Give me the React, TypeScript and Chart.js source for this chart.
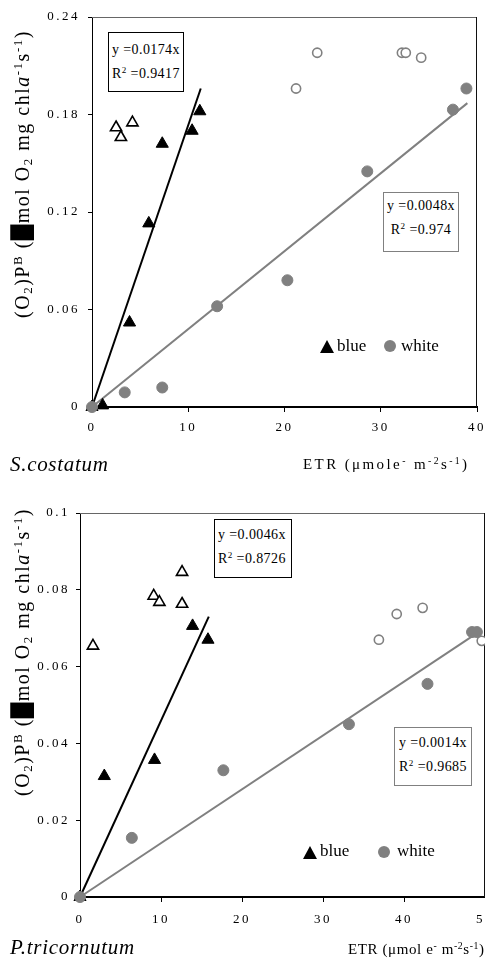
import React, { useEffect, useRef } from 'react';
import { Chart, registerables } from 'chart.js';

Chart.register(...registerables);

// ---------- S. costatum (top panel) ----------
const scXTicks = [0, 10, 20, 30, 40];
const scYTicks = [0, 0.06, 0.12, 0.18, 0.24];
const scYTickLabels = ['0', '0.06', '0.12', '0.18', '0.24'];

const scBlueX = [0, 1.1, 3.9, 5.9, 7.3, 10.4, 11.2];
const scBlueY = [0, 0.001, 0.052, 0.113, 0.162, 0.17, 0.182];
const scBlueOpenX = [2.5, 3.0, 4.2];
const scBlueOpenY = [0.172, 0.166, 0.175];
const scWhiteX = [0, 3.4, 7.3, 13.0, 20.3, 28.6, 37.5, 38.9];
const scWhiteY = [0, 0.009, 0.012, 0.062, 0.078, 0.145, 0.183, 0.196];
const scWhiteOpenX = [21.2, 23.4, 32.2, 32.6, 34.2];
const scWhiteOpenY = [0.196, 0.218, 0.218, 0.218, 0.215];
const scBlueFitX = [0, 11.3];
const scBlueFitY = [0, 0.196];
const scWhiteFitX = [0, 39.0];
const scWhiteFitY = [0, 0.187];

// ---------- P. tricornutum (bottom panel) ----------
const ptXTicks = [0, 10, 20, 30, 40, 50];
const ptYTicks = [0, 0.02, 0.04, 0.06, 0.08, 0.1];
const ptYTickLabels = ['0', '0.02', '0.04', '0.06', '0.08', '0.1'];

const ptBlueX = [0, 3.0, 9.2, 13.9, 15.8];
const ptBlueY = [0, 0.0315, 0.0357, 0.0706, 0.067];
const ptBlueOpenX = [1.6, 9.1, 9.8, 12.6, 12.6];
const ptBlueOpenY = [0.0654, 0.0784, 0.0768, 0.0846, 0.0763];
const ptWhiteX = [0, 6.4, 17.7, 33.2, 42.9, 48.4, 49.0];
const ptWhiteY = [0, 0.0154, 0.033, 0.045, 0.0555, 0.069, 0.069];
const ptWhiteOpenX = [36.9, 39.1, 42.3, 49.6];
const ptWhiteOpenY = [0.067, 0.0737, 0.0753, 0.0667];
const ptBlueFitX = [0, 15.9];
const ptBlueFitY = [0, 0.073];
const ptWhiteFitX = [0, 48.5];
const ptWhiteFitY = [0, 0.068];

const FONT = '"Liberation Serif", "Times New Roman", Times, serif';
const GRAY = '#808080';

function pts(xs: number[], ys: number[]) {
  return xs.map((x, i) => ({ x, y: ys[i] }));
}

const framePlugin = {
  id: 'frame',
  beforeLayout(chart: any) {
    chart.ctx.letterSpacing = '2.5px';
  },
  beforeDraw(chart: any) {
    chart.ctx.letterSpacing = '2.5px';
  },
  beforeDatasetsDraw(chart: any) {
    const { ctx, chartArea } = chart;
    const { left, right, top, bottom } = chartArea;
    ctx.save();
    ctx.lineWidth = 1;
    ctx.strokeStyle = '#666';
    ctx.beginPath();
    ctx.moveTo(left, Math.round(top) + 0.5);
    ctx.lineTo(right, Math.round(top) + 0.5);
    ctx.stroke();
    ctx.strokeStyle = '#111';
    ctx.beginPath();
    ctx.moveTo(Math.round(right) - 0.5, top);
    ctx.lineTo(Math.round(right) - 0.5, bottom);
    ctx.stroke();
    ctx.restore();
  },
};

type Cfg = {
  xMax: number;
  yMax: number;
  xTicks: number[];
  yTicks: number[];
  yLabels: string[];
  padTop: number;
  padRight: number;
  padBottom: number;
  yWidth: number;
  xPad: number;
  yPad: number;
  blue: { x: number; y: number }[];
  blueOpen: { x: number; y: number }[];
  white: { x: number; y: number }[];
  whiteOpen: { x: number; y: number }[];
  blueFit: { x: number; y: number }[];
  whiteFit: { x: number; y: number }[];
};

function makeChart(canvas: HTMLCanvasElement, c: Cfg) {
  return new Chart(canvas, {
    type: 'scatter',
    data: {
      datasets: [
        {
          label: 'white',
          data: c.white,
          pointStyle: 'circle',
          pointRadius: 5.5,
          backgroundColor: GRAY,
          borderColor: GRAY,
          borderWidth: 1,
          showLine: false,
          clip: false,
        } as any,
        {
          label: 'white (open)',
          data: c.whiteOpen,
          pointStyle: 'circle',
          pointRadius: 4.6,
          backgroundColor: '#fff',
          borderColor: GRAY,
          borderWidth: 1.6,
          showLine: false,
          clip: false,
        },
        {
          label: 'blue',
          data: c.blue,
          pointStyle: 'triangle',
          pointRadius: 7,
          backgroundColor: '#000',
          borderColor: '#000',
          borderWidth: 1,
          showLine: false,
          clip: false,
        },
        {
          label: 'blue (open)',
          data: c.blueOpen,
          pointStyle: 'triangle',
          pointRadius: 6.5,
          backgroundColor: '#fff',
          borderColor: '#000',
          borderWidth: 1.6,
          showLine: false,
          clip: false,
        },
        {
          label: 'white fit',
          data: c.whiteFit,
          showLine: true,
          pointRadius: 0,
          borderColor: GRAY,
          borderWidth: 2,
          clip: false,
        },
        {
          label: 'blue fit',
          data: c.blueFit,
          showLine: true,
          pointRadius: 0,
          borderColor: '#000',
          borderWidth: 2,
          clip: false,
        },
      ],
    },
    options: {
      responsive: false,
      maintainAspectRatio: false,
      animation: false,
      events: [],
      layout: { padding: { left: 0, top: c.padTop, right: c.padRight, bottom: c.padBottom } },
      plugins: { legend: { display: false }, tooltip: { enabled: false } },
      scales: {
        x: {
          type: 'linear',
          min: 0,
          max: c.xMax,
          afterBuildTicks: (s: any) => {
            s.ticks = c.xTicks.map((v) => ({ value: v }));
          },
          afterFit: (s: any) => {
            s.height = 30;
          },
          grid: { display: true, drawOnChartArea: false, drawTicks: true, tickLength: 5, tickColor: '#000', tickWidth: 1 },
          border: { display: true, color: '#000', width: 2 },
          ticks: {
            color: '#000',
            font: { family: FONT, size: 13 },
            padding: c.xPad,
            maxRotation: 0,
            autoSkip: false,
            callback: (v: any) => String(v),
          },
        },
        y: {
          type: 'linear',
          min: 0,
          max: c.yMax,
          afterBuildTicks: (s: any) => {
            s.ticks = c.yTicks.map((v) => ({ value: v }));
          },
          afterFit: (s: any) => {
            s.width = c.yWidth;
          },
          grid: { display: true, drawOnChartArea: false, drawTicks: true, tickLength: 4, tickColor: '#000', tickWidth: 1 },
          border: { display: true, color: '#000', width: 1 },
          ticks: {
            color: '#000',
            font: { family: FONT, size: 13 },
            padding: c.yPad,
            autoSkip: false,
            callback: (_v: any, i: number) => c.yLabels[i],
          },
        },
      },
    } as any,
    plugins: [framePlugin],
  });
}

const supStyle: React.CSSProperties = { fontSize: '0.65em', verticalAlign: '0.55em', lineHeight: 0 };
const subStyle: React.CSSProperties = { fontSize: '0.65em', verticalAlign: '-0.25em', lineHeight: 0 };
const Sup = ({ children }: { children: React.ReactNode }) => <span style={supStyle}>{children}</span>;
const Sub = ({ children }: { children: React.ReactNode }) => <span style={subStyle}>{children}</span>;

function YTitle({ cx, cy }: { cx: number; cy: number }) {
  return (
    <div
      style={{
        position: 'absolute',
        left: cx,
        top: cy,
        transform: 'translate(-50%, -50%) rotate(-90deg)',
        whiteSpace: 'nowrap',
        fontSize: 20,
        lineHeight: '20px',
        letterSpacing: '1.5px',
      }}
    >
      (O<Sub>2</Sub>)P<Sup>B</Sup> (<span style={{ fontFamily: '"DejaVu Sans"' }}>█</span>mol O<Sub>2</Sub> mg chl
      <i>a</i>
      <Sup>-1</Sup>s<Sup>-1</Sup>)
    </div>
  );
}

function EqBox(props: {
  left: number;
  top: number;
  width: number;
  height: number;
  border: string;
  align: 'left' | 'center';
  padTop: number;
  padLeft: number;
  eq: string;
  r2: string;
}) {
  return (
    <div
      style={{
        position: 'absolute',
        left: props.left,
        top: props.top,
        width: props.width,
        height: props.height,
        boxSizing: 'border-box',
        border: `1px solid ${props.border}`,
        background: '#fff',
        fontSize: 14,
        lineHeight: '24px',
        letterSpacing: '0.4px',
        paddingTop: props.padTop,
        paddingLeft: props.padLeft,
        textAlign: props.align,
        whiteSpace: 'nowrap',
      }}
    >
      <div>{props.eq}</div>
      <div>
        R<Sup>2</Sup> ={props.r2}
      </div>
    </div>
  );
}

function Legend(props: { triX: number; triY: number; blueX: number; circX: number; circY: number; whiteX: number; textTop: number }) {
  return (
    <>
      <svg
        width={14}
        height={13}
        style={{ position: 'absolute', left: props.triX - 7, top: props.triY - 6.5 }}
      >
        <polygon points="0,13 7,0 14,13" fill="#000" />
      </svg>
      <div style={{ position: 'absolute', left: props.blueX, top: props.textTop, fontSize: 17, lineHeight: '20px' }}>blue</div>
      <svg width={12} height={12} style={{ position: 'absolute', left: props.circX - 6, top: props.circY - 6 }}>
        <circle cx={6} cy={6} r={6} fill={GRAY} />
      </svg>
      <div style={{ position: 'absolute', left: props.whiteX, top: props.textTop, fontSize: 17, lineHeight: '20px' }}>white</div>
    </>
  );
}

export default function App() {
  const topRef = useRef<HTMLCanvasElement>(null);
  const botRef = useRef<HTMLCanvasElement>(null);

  useEffect(() => {
    const top = makeChart(topRef.current!, {
      xMax: 40,
      yMax: 0.24,
      xTicks: scXTicks,
      yTicks: scYTicks,
      yLabels: scYTickLabels,
      padTop: 17,
      padRight: 23,
      padBottom: 33,
      yWidth: 92,
      xPad: 8,
      yPad: 8,
      blue: pts(scBlueX, scBlueY),
      blueOpen: pts(scBlueOpenX, scBlueOpenY),
      white: pts(scWhiteX, scWhiteY),
      whiteOpen: pts(scWhiteOpenX, scWhiteOpenY),
      blueFit: pts(scBlueFitX, scBlueFitY),
      whiteFit: pts(scWhiteFitX, scWhiteFitY),
    });
    const bot = makeChart(botRef.current!, {
      xMax: 50,
      yMax: 0.1,
      xTicks: ptXTicks,
      yTicks: ptYTicks,
      yLabels: ptYTickLabels,
      padTop: 43,
      padRight: 35,
      padBottom: 37,
      yWidth: 80,
      xPad: 10,
      yPad: 6,
      blue: pts(ptBlueX, ptBlueY),
      blueOpen: pts(ptBlueOpenX, ptBlueOpenY),
      white: pts(ptWhiteX, ptWhiteY),
      whiteOpen: pts(ptWhiteOpenX, ptWhiteOpenY),
      blueFit: pts(ptBlueFitX, ptBlueFitY),
      whiteFit: pts(ptWhiteFitX, ptWhiteFitY),
    });
    return () => {
      top.destroy();
      bot.destroy();
    };
  }, []);

  return (
    <div
      style={{
        position: 'absolute',
        left: 0,
        top: 0,
        width: 485,
        height: 964,
        overflow: 'hidden',
        background: '#fff',
        fontFamily: FONT,
        color: '#000',
      }}
    >
      <canvas ref={topRef} width={500} height={470} style={{ position: 'absolute', left: 0, top: 0, width: 500, height: 470 }} />
      <canvas ref={botRef} width={520} height={494} style={{ position: 'absolute', left: 0, top: 470, width: 520, height: 494 }} />

      {/* top panel texts */}
      <YTitle cx={22} cy={174} />
      <EqBox left={108} top={32} width={76} height={60} border="#000" align="left" padTop={5} padLeft={3} eq="y =0.0174x" r2="0.9417" />
      <EqBox left={383} top={192} width={76} height={60} border={GRAY} align="center" padTop={1} padLeft={0} eq="y =0.0048x" r2="0.974" />
      <Legend triX={327} triY={346.5} blueX={337} circX={390} circY={346} whiteX={401} textTop={336} />
      <div style={{ position: 'absolute', left: 10, top: 452, fontSize: 21, lineHeight: '24px', fontStyle: 'italic', letterSpacing: '0.7px', whiteSpace: 'nowrap' }}>
        S.costatum
      </div>
      <div style={{ position: 'absolute', left: 303, top: 455, fontSize: 15, lineHeight: '18px', letterSpacing: '2.4px', whiteSpace: 'nowrap' }}>
        ETR (μmole<Sup>-</Sup> m<Sup>-2</Sup>s<Sup>-1</Sup>)
      </div>

      {/* bottom panel texts */}
      <YTitle cx={22} cy={652} />
      <EqBox left={214} top={519} width={78} height={59} border="#000" align="left" padTop={3} padLeft={3} eq="y =0.0046x" r2="0.8726" />
      <EqBox left={394} top={727} width={78} height={59} border={GRAY} align="center" padTop={3} padLeft={0} eq="y =0.0014x" r2="0.9685" />
      <Legend triX={310} triY={852.5} blueX={320} circX={384} circY={852} whiteX={397} textTop={841} />
      <div style={{ position: 'absolute', left: 10, top: 935, fontSize: 21, lineHeight: '24px', fontStyle: 'italic', letterSpacing: '0.7px', whiteSpace: 'nowrap' }}>
        P.tricornutum
      </div>
      <div style={{ position: 'absolute', left: 348, top: 940, fontSize: 15, lineHeight: '18px', letterSpacing: '0.6px', whiteSpace: 'nowrap' }}>
        ETR (μmol e<Sup>-</Sup> m<Sup>-2</Sup>s<Sup>-1</Sup>)
      </div>
    </div>
  );
}
